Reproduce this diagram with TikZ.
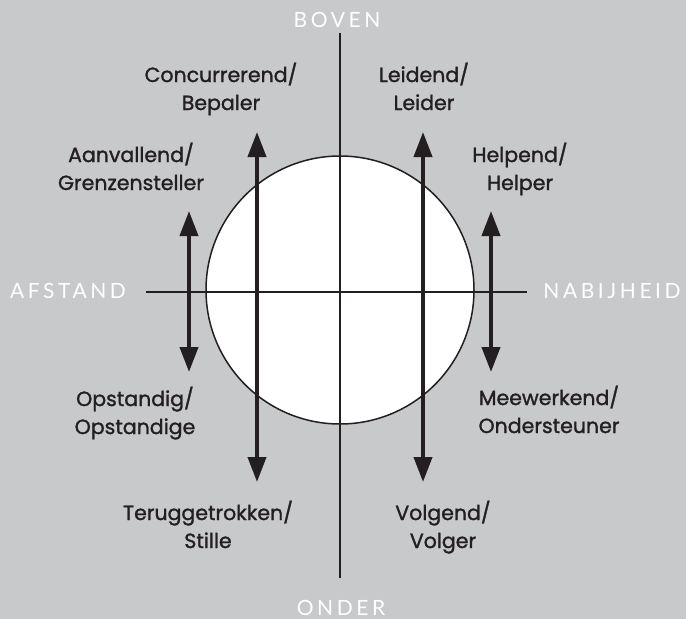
\documentclass[tikz,border=0pt]{standalone}
\usepackage{fontspec}
\usetikzlibrary{arrows.meta}
\newfontfamily\labfont[FakeBold=1.3]{Poppins}
\newfontfamily\axfont[LetterSpace=17]{Lato}
\definecolor{bggray}{HTML}{C8C9CB}
\definecolor{ink}{HTML}{231F20}
\tikzset{
  lab/.style={anchor=base, inner sep=0pt, text=ink, font=\labfont\fontsize{20.5}{24}\selectfont},
  ax/.style={anchor=base, inner sep=0pt, text=white, font=\axfont\fontsize{21}{24}\selectfont},
  axis/.style={draw=ink, line width=1.6pt},
  dbl/.style={draw=ink, line width=4pt, {Triangle[width=18pt,length=25pt]}-{Triangle[width=18pt,length=25pt]}}
}
\begin{document}
\begin{tikzpicture}[x=1pt,y=-1pt]
\fill[bggray] (0,0) rectangle (686,619);
\useasboundingbox (0,0) rectangle (686,619);
% circle
\node[circle, fill=white, draw=ink, line width=1.5pt, minimum size=268pt, inner sep=0pt] (circ) at (340,290) {};
% axes
\coordinate (vtop) at (340,33);
\coordinate (vbot) at (340,578);
\coordinate (hleft) at (146,292);
\coordinate (hright) at (527,292);
\draw[axis] (vtop) -- (vbot);
\draw[axis] (hleft) -- (hright);
% arrows
\coordinate (la1) at (257,132);
\coordinate (la2) at (257,482);
\coordinate (ra1) at (423,132);
\coordinate (ra2) at (423,482);
\coordinate (ls1) at (189,211);
\coordinate (ls2) at (189,372);
\coordinate (rs1) at (491,211);
\coordinate (rs2) at (491,372);
\draw[dbl] (la1) -- (la2);
\draw[dbl] (ra1) -- (ra2);
\draw[dbl] (ls1) -- (ls2);
\draw[dbl] (rs1) -- (rs2);
% axis labels
\node[ax] (boven) at (337,27) {BOVEN};
\node[ax] (onder) at (341,615) {ONDER};
\node[ax] (afstand) at (68,298) {AFSTAND};
\node[ax] (nabij) at (612,298) {NABIJHEID};
% labels
\node[lab] (c1) at (221,82) {Concurrerend/};
\node[lab] (c2) at (221,110) {Bepaler};
\node[lab] (l1) at (424,82) {Leidend/};
\node[lab] (l2) at (424,110) {Leider};
\node[lab] (a1) at (131,162) {Aanvallend/};
\node[lab] (a2) at (131,190) {Grenzensteller};
\node[lab] (h1) at (520,162) {Helpend/};
\node[lab] (h2) at (520,190) {Helper};
\node[lab] (o1) at (135,406) {Opstandig/};
\node[lab] (o2) at (135,434) {Opstandige};
\node[lab] (m1) at (549,405) {Meewerkend/};
\node[lab] (m2) at (549,433) {Ondersteuner};
\node[lab] (t1) at (208,520) {Teruggetrokken/};
\node[lab] (t2) at (208,548) {Stille};
\node[lab] (v1) at (443,520) {Volgend/};
\node[lab] (v2) at (443,548) {Volger};
\end{tikzpicture}
\end{document}
